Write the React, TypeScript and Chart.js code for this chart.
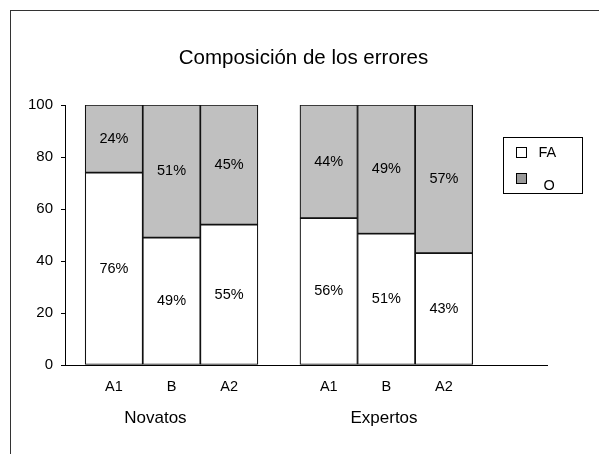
import React, { useEffect, useRef } from "react";
import { Chart, registerables } from "chart.js";

Chart.register(...registerables);

// ---- data ----
const TITLE = "Composición de los errores";
const categories = ["A1", "B", "A2", "A1", "B", "A2"];
const groups = ["Novatos", "Expertos"];
const seriesNames = ["FA", "O"];
const faValues = [74, 49, 54, 56.5, 50.5, 43];
const oValues = [26, 51, 46, 43.5, 49.5, 57];
const faLabels = ["76%", "49%", "55%", "56%", "51%", "43%"];
const oLabels = ["24%", "51%", "45%", "44%", "49%", "57%"];
const yTicks = [0, 20, 40, 60, 80, 100];

// ---- layout (axis units on the x scale) ----
const SLOT_X = [0.85, 1.85, 2.85, 4.58, 5.58, 6.58];
const X_MAX = 8.37;
const GROUP_LABEL_X = [1.57, 5.54];
const FONT = '"Liberation Sans", Arial, Helvetica, sans-serif';
const COLORS = { fa: "#ffffff", o: "#c0c0c0", oLegend: "#999999" };

const overlayPlugin = {
  id: "overlay",
  afterDraw(chart: any) {
    const ctx = chart.ctx as CanvasRenderingContext2D;
    const xs = chart.scales.x;
    ctx.save();
    ctx.fillStyle = "#000";

    // title
    ctx.font = `20.5px ${FONT}`;
    ctx.textAlign = "center";
    ctx.textBaseline = "alphabetic";
    ctx.fillText(TITLE, 303.5, 64);

    // value labels
    ctx.font = `14.5px ${FONT}`;
    ctx.textBaseline = "middle";
    [faLabels, oLabels].forEach((labels, d) => {
      chart.getDatasetMeta(d).data.forEach((el: any, i: number) => {
        const p = el.getProps(["x", "y", "base"], true);
        ctx.fillText(labels[i], p.x, (p.y + p.base) / 2);
      });
    });

    // group labels
    ctx.font = `17px ${FONT}`;
    ctx.textBaseline = "alphabetic";
    groups.forEach((g, i) => {
      ctx.fillText(g, xs.getPixelForValue(GROUP_LABEL_X[i]), 423);
    });

    // legend
    ctx.strokeStyle = "#000";
    ctx.lineWidth = 1;
    ctx.strokeRect(503.5, 137.5, 79, 56);
    const sw = [
      { c: COLORS.fa, y: 147.5, ty: 153, tx: 538.5 },
      { c: COLORS.oLegend, y: 173.5, ty: 186, tx: 543.5 },
    ];
    ctx.font = `14.5px ${FONT}`;
    ctx.textAlign = "left";
    ctx.textBaseline = "middle";
    sw.forEach((s, i) => {
      ctx.fillStyle = s.c;
      ctx.fillRect(516.5, s.y, 10, 10);
      ctx.strokeRect(516.5, s.y, 10, 10);
      ctx.fillStyle = "#000";
      ctx.fillText(seriesNames[i], s.tx, s.ty);
    });
    ctx.restore();
  },
};

export default function App() {
  const ref = useRef<HTMLCanvasElement | null>(null);

  useEffect(() => {
    if (!ref.current) return;
    const chart = new Chart(ref.current, {
      type: "bar",
      data: {
        datasets: [
          {
            label: seriesNames[0],
            data: faValues.map((v, i) => ({ x: SLOT_X[i], y: v })),
            backgroundColor: COLORS.fa,
            borderColor: "#111",
            borderWidth: 1.2,
            borderSkipped: false,
            categoryPercentage: 1,
            barPercentage: 1,
          },
          {
            label: seriesNames[1],
            data: oValues.map((v, i) => ({ x: SLOT_X[i], y: v })),
            backgroundColor: COLORS.o,
            borderColor: "#111",
            borderWidth: 1.2,
            borderSkipped: false,
            categoryPercentage: 1,
            barPercentage: 1,
          },
        ],
      },
      options: {
        responsive: false,
        animation: false,
        devicePixelRatio: 1,
        layout: { padding: { left: 0, top: 105, right: 52, bottom: 59 } },
        plugins: {
          legend: { display: false },
          title: { display: false },
          tooltip: { enabled: false },
        },
        scales: {
          x: {
            type: "linear",
            stacked: true,
            offset: false,
            min: 0,
            max: X_MAX,
            grid: { display: false, drawTicks: false, offset: false },
            border: { display: true, color: "#000", width: 1 },
            afterBuildTicks: (axis: any) => {
              axis.ticks = SLOT_X.map((v) => ({ value: v }));
            },
            afterFit: (axis: any) => {
              axis.height = 30;
            },
            ticks: {
              autoSkip: false,
              maxRotation: 0,
              padding: 13,
              color: "#000",
              font: { family: FONT, size: 14.5 },
              callback: (_v: any, i: number) => categories[i],
            },
          },
          y: {
            stacked: true,
            min: 0,
            max: 100,
            afterBuildTicks: (axis: any) => {
              axis.ticks = yTicks.map((v) => ({ value: v }));
            },
            afterFit: (axis: any) => {
              axis.width = 65;
            },
            grid: {
              drawOnChartArea: false,
              drawTicks: true,
              tickLength: 4,
              color: "#000",
            },
            border: { display: true, color: "#000", width: 1 },
            ticks: {
              padding: 8,
              color: "#000",
              font: { family: FONT, size: 15 },
            },
          },
        },
      },
      plugins: [overlayPlugin],
    } as any);
    return () => chart.destroy();
  }, []);

  return (
    <div
      style={{
        position: "fixed",
        left: 0,
        top: 0,
        width: 599,
        height: 454,
        background: "#fff",
      }}
    >
      <canvas ref={ref} width={599} height={454} style={{ display: "block" }} />
      <div
        style={{
          position: "absolute",
          left: 10,
          top: 10,
          right: -5,
          bottom: -5,
          borderLeft: "1px solid #333",
          borderTop: "1px solid #333",
          pointerEvents: "none",
        }}
      />
    </div>
  );
}
